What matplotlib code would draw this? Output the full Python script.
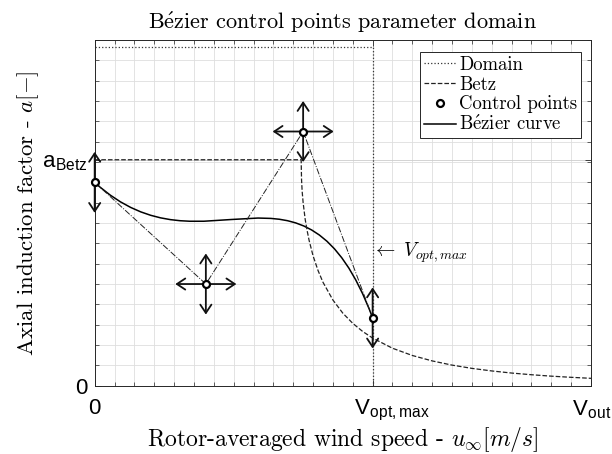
import matplotlib
matplotlib.use("Agg")
import matplotlib.pyplot as plt
from matplotlib.path import Path
from matplotlib.patches import PathPatch
from matplotlib.lines import Line2D
from matplotlib.transforms import ScaledTranslation
import numpy as np

plt.rcParams['mathtext.fontset'] = 'cm'
SERIF = ['cmr10', 'DejaVu Serif']
SANS = ['Liberation Sans', 'DejaVu Sans']

# parameter domain (upper bound on a, rated wind speed)
domain_u = [0, 14, 14]
domain_a = [0.5, 0.5, 0]

# Betz-optimal induction, constant below rated then dropping off
betz_u = [0, 10.4, 10.42, 10.45, 10.5, 10.6, 10.7, 10.8, 11, 11.25, 11.5, 12, 12.5,
          13, 13.5, 14, 15, 16, 17, 18, 19, 20, 21, 22, 23, 24, 25]
betz_a = [1/3, 1/3, 0.304, 0.287, 0.270, 0.246, 0.229, 0.2145, 0.1916, 0.170, 0.1526,
          0.1264, 0.107, 0.092, 0.080, 0.0703, 0.0553, 0.0446, 0.0366, 0.0304, 0.0256,
          0.0218, 0.0187, 0.0162, 0.0141, 0.0124, 0.0109]

# cubic Bezier control points
ctrl_u = [0, 5.6, 10.5, 14]
ctrl_a = [0.30, 0.15, 0.375, 0.10]
# which control points may also move along u
ctrl_free_u = [False, True, True, False]

u_max = 25
a_max = 0.51
u_ticks = [0, 14, 25]
u_ticklabels = ['0', r'V$_{\mathregular{opt,max}}$', r'V$_{\mathregular{out}}$']
a_ticks = [0, 1/3]
a_ticklabels = ['0', r'a$_{\mathregular{Betz}}$']

fig = plt.figure(figsize=(6.12, 4.54), dpi=100)
ax = fig.add_axes([0.1547, 0.1504, 0.811, 0.7615])

ax.set_xlim(0, u_max)
ax.set_ylim(0, a_max)
ax.set_xticks(u_ticks)
ax.set_xticklabels(u_ticklabels, family=SANS, fontsize=16)
ax.set_yticks(a_ticks)
ax.set_yticklabels(a_ticklabels, family=SANS, fontsize=16)
ax.set_xticks(np.arange(0, u_max + 0.5, 1), minor=True)
ax.set_yticks(np.arange(0, a_max + 0.001, 0.03), minor=True)
ax.tick_params(which='both', direction='in', top=True, right=True, color='#262626')
ax.tick_params(which='major', length=4, width=0.6)
ax.tick_params(axis='x', which='major', pad=9)
ax.tick_params(axis='y', which='major', pad=5)
ax.tick_params(which='minor', length=3, width=0.5)
ax.grid(True, which='minor', color='#dedede', lw=0.6)
ax.grid(True, which='major', color='#cccccc', lw=0.6)
ax.set_axisbelow(True)
for s in ax.spines.values():
    s.set_color('#262626')
    s.set_linewidth(0.7)

# V labels start a little left of their tick, subscript hangs to the right
for lbl in ax.get_xticklabels()[1:]:
    lbl.set_horizontalalignment('left')
    lbl.set_transform(lbl.get_transform() + ScaledTranslation(-0.19, 0, fig.dpi_scale_trans))

ax.plot(domain_u, domain_a, ':', color='#333333', lw=0.9)
ax.plot(betz_u, betz_a, '--', color='#222222', lw=0.9)
ax.plot(ctrl_u, ctrl_a, '-.', color='#222222', lw=0.7)

verts = list(zip(ctrl_u, ctrl_a))
bez = Path(verts, [Path.MOVETO, Path.CURVE4, Path.CURVE4, Path.CURVE4])
ax.add_patch(PathPatch(bez, fill=False, color='black', lw=1.1))

# movement arrows at each control point
arr = dict(arrowstyle='<-, head_length=0.6, head_width=0.4', lw=1.3, color='#111111',
           shrinkA=0, shrinkB=0)
L = 22
for u, a, free_u in zip(ctrl_u, ctrl_a, ctrl_free_u):
    offs = [(0, L), (0, -L)]
    if free_u:
        offs += [(L, 0), (-L, 0)]
    for dx, dy in offs:
        ax.annotate('', xy=(u, a), xytext=(dx, dy), textcoords='offset points',
                    arrowprops=arr, annotation_clip=False)

ax.plot(ctrl_u, ctrl_a, 'o', ms=5, mfc='white', mec='black', mew=1.6, zorder=5,
        clip_on=False)

ax.text(13.95, 0.196, r'$\leftarrow\ V_{opt,max}$', fontsize=14, va='center', ha='left')

ax.set_title(r'B$\acute{\mathrm{e}}$zier control points parameter domain', family=SERIF,
             fontsize=16, pad=8)
ax.set_xlabel(r'Rotor-averaged wind speed - $u_\infty[m/s]$', family=SERIF, fontsize=17,
              labelpad=1)
ax.set_ylabel(r'Axial induction factor - $a[-]$', family=SERIF, fontsize=16.5, labelpad=1)

handles = [
    Line2D([], [], ls=':', color='#333333', lw=0.9),
    Line2D([], [], ls='--', color='#222222', lw=0.9),
    Line2D([], [], ls='none', marker='o', ms=5, mfc='white', mec='black', mew=1.6),
    Line2D([], [], ls='-', color='black', lw=1.1),
]
labels = ['Domain', 'Betz', 'Control points', r'B$\acute{\mathrm{e}}$zier curve']
leg = ax.legend(handles, labels, loc='upper right', bbox_to_anchor=(0.98, 0.965),
                prop={'family': SERIF, 'size': 13.5}, fancybox=False, framealpha=1,
                edgecolor='#262626', handlelength=1.75, handletextpad=0.15,
                borderpad=0.2, labelspacing=0.1, borderaxespad=0)
leg.get_frame().set_linewidth(0.7)

fig.savefig('out.png', dpi=100)
